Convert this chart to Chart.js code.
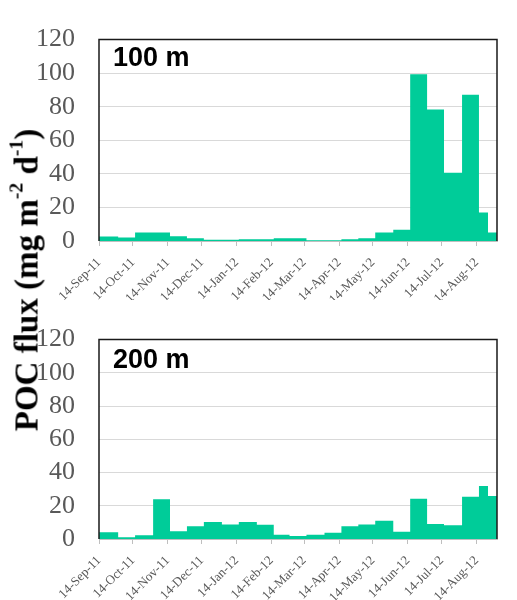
<!DOCTYPE html>
<html>
<head>
<meta charset="utf-8">
<script src="https://cdn.jsdelivr.net/npm/chart.js@4.4.1/dist/chart.umd.min.js"></script>
<style>
  html, body { margin: 0; padding: 0; background: #fff; }
  #wrap { position: relative; width: 517px; height: 600px; overflow: hidden; }
  canvas { position: absolute; left: 0; }
  #c100 { top: 0; }
  #c200 { top: 300px; }
  #ytitle {
    position: absolute; left: 27px; top: 280px;
    transform: translate(-50%, -50%) rotate(-90deg);
    font: bold 33px "Liberation Serif", serif;
    white-space: nowrap; line-height: 1; color: #000;
  }
  #ytitle sup { font-size: 0.6em; vertical-align: 0.75em; line-height: 0; }
</style>
</head>
<body>
<div id="wrap">
  <canvas id="c100" width="517" height="300"></canvas>
  <canvas id="c200" width="517" height="300"></canvas>
  <div id="ytitle">POC flux (mg m<sup>-2</sup> d<sup>-1</sup>)</div>
</div>
<script>
// Sampling interval edges (trap cup open/close dates)
const binEdges = [
  '2011-09-14', '2011-10-01', '2011-10-16', '2011-11-01', '2011-11-16',
  '2011-12-01', '2011-12-16', '2012-01-01', '2012-01-16', '2012-02-01',
  '2012-02-16', '2012-03-01', '2012-03-16', '2012-04-01', '2012-04-16',
  '2012-05-01', '2012-05-16', '2012-06-01', '2012-06-16', '2012-07-01',
  '2012-07-16', '2012-08-01', '2012-08-16', '2012-08-24', '2012-09-01'
];

// POC flux per interval, mg m-2 d-1
const flux100 = [
  2.7, 2.1, 5.0, 5.0, 2.9, 1.7, 0.8, 0.8, 1.1, 1.1, 1.7, 1.7,
  0.4, 0.4, 1.1, 1.7, 5.0, 6.7, 99.3, 78.3, 40.6, 87.2, 17.0, 5.0
];
const flux200 = [
  4.0, 1.1, 2.3, 23.9, 4.6, 7.7, 10.3, 8.7, 10.2, 8.6, 2.6, 1.8,
  2.6, 3.8, 7.6, 8.7, 11.0, 4.3, 24.2, 9.0, 8.3, 25.4, 31.9, 25.9
];

const tickDates = [
  '2011-09-14', '2011-10-14', '2011-11-14', '2011-12-14', '2012-01-14', '2012-02-14',
  '2012-03-14', '2012-04-14', '2012-05-14', '2012-06-14', '2012-07-14', '2012-08-14'
];
const tickLabels = [
  '14-Sep-11', '14-Oct-11', '14-Nov-11', '14-Dec-11', '14-Jan-12', '14-Feb-12',
  '14-Mar-12', '14-Apr-12', '14-May-12', '14-Jun-12', '14-Jul-12', '14-Aug-12'
];
const yTicks = [0, 20, 40, 60, 80, 100, 120];

const GREEN = '#00cc99';
const DAY = 86400000;
const dayOf = s => (Date.parse(s) - Date.parse(binEdges[0])) / DAY;

// Step outline: each interval holds its value until the next edge
function stepPoints(vals) {
  const pts = vals.map((v, i) => ({ x: dayOf(binEdges[i]), y: v }));
  pts.push({ x: dayOf(binEdges[binEdges.length - 1]), y: vals[vals.length - 1] });
  return pts;
}

// Plot frame (left, top, right) and depth label
const framePlugin = {
  id: 'frame',
  afterDraw(chart, args, opts) {
    const { ctx, chartArea: { left, right, top, bottom } } = chart;
    ctx.save();
    ctx.strokeStyle = '#1a1a1a';
    ctx.lineWidth = 1.5;
    ctx.beginPath();
    ctx.moveTo(left, bottom);
    ctx.lineTo(left, top);
    ctx.lineTo(right, top);
    ctx.lineTo(right, bottom);
    ctx.stroke();
    ctx.font = 'bold 27px "Liberation Sans", Arial, sans-serif';
    ctx.fillStyle = '#000';
    ctx.textBaseline = 'middle';
    ctx.textAlign = 'left';
    ctx.fillText(opts.label, left + 14, top + opts.labelDy);
    ctx.restore();
  }
};

function makeChart(id, vals, label, xHeight, labelDy) {
  return new Chart(document.getElementById(id), {
    type: 'line',
    data: {
      datasets: [{
        data: stepPoints(vals),
        stepped: 'before',
        fill: 'origin',
        backgroundColor: GREEN,
        borderColor: 'rgba(0,0,0,0)',
        borderWidth: 0,
        pointRadius: 0,
        pointHoverRadius: 0
      }]
    },
    options: {
      responsive: false,
      animation: false,
      devicePixelRatio: 1,
      layout: { padding: { left: 0, right: 20, top: 31, bottom: 0 } },
      plugins: {
        legend: { display: false },
        tooltip: { enabled: false },
        frame: { label: label, labelDy: labelDy }
      },
      scales: {
        x: {
          type: 'linear',
          min: 0,
          max: dayOf(binEdges[binEdges.length - 1]),
          afterFit(s) { s.height = xHeight; },
          afterBuildTicks(s) { s.ticks = tickDates.map(d => ({ value: dayOf(d) })); },
          grid: { display: true, drawOnChartArea: false, drawTicks: true, tickLength: 5, color: '#bfbfbf' },
          border: { display: true, color: '#bfbfbf', width: 1 },
          ticks: {
            autoSkip: false,
            minRotation: 45,
            maxRotation: 45,
            padding: 9,
            color: '#595959',
            font: { family: '"Liberation Serif", serif', size: 13 },
            callback: (v, i) => tickLabels[i]
          }
        },
        y: {
          min: 0,
          max: 120,
          afterFit(s) { s.width = 99; },
          afterBuildTicks(s) { s.ticks = yTicks.map(v => ({ value: v })); },
          grid: { color: '#d9d9d9', drawTicks: false, lineWidth: 1 },
          border: { display: false },
          ticks: {
            autoSkip: false,
            padding: 24,
            color: '#595959',
            font: { family: '"Liberation Serif", serif', size: 26 }
          }
        }
      }
    },
    plugins: [framePlugin]
  });
}

makeChart('c100', flux100, '100 m', 59, 19);
makeChart('c200', flux200, '200 m', 61, 21);
</script>
</body>
</html>
